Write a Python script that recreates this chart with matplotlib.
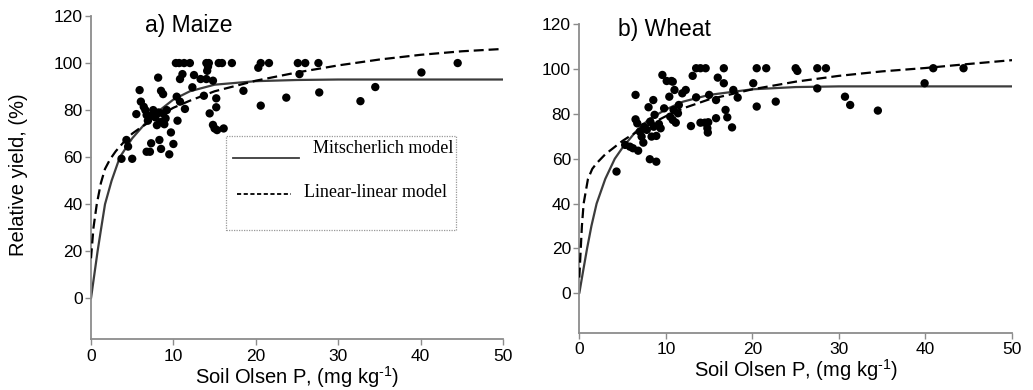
import matplotlib
matplotlib.use("Agg")
import matplotlib.pyplot as plt
from matplotlib.patches import Rectangle

plt.rcParams['font.family'] = ['Liberation Sans', 'DejaVu Sans']
plt.rcParams['mathtext.fontset'] = 'custom'
plt.rcParams['mathtext.rm'] = 'Liberation Sans'
plt.rcParams['mathtext.it'] = 'Liberation Sans'
plt.rcParams['mathtext.bf'] = 'Liberation Sans'

# ---------------- data ----------------
x_ticks = [0, 10, 20, 30, 40, 50]
y_ticks = [0, 20, 40, 60, 80, 100, 120]

# Maize observations
maize_x = [3.7, 5.0, 4.3, 4.5, 5.5, 5.9, 6.05, 6.4, 6.6, 6.75, 6.9, 6.75, 7.15, 7.3, 7.55,
           7.8, 8.0, 8.15, 8.3, 8.5, 8.5, 8.75, 8.5, 8.75, 9.05, 9.2, 9.5, 9.7, 10.0, 8.2,
           7.2, 8.9, 10.4, 10.5, 10.8, 11.1, 10.8, 11.4, 12.3, 12.5, 13.3, 13.7, 14.0, 14.1,
           14.2, 14.4, 14.8, 14.8, 15.0, 15.2, 15.2, 15.3, 16.1, 18.5, 20.6, 23.7, 25.3, 27.7,
           32.7, 34.5, 40.1, 20.3,
           10.3, 10.7, 11.3, 12.0, 14.0, 14.3, 15.5, 15.9, 17.1, 20.6, 21.6, 25.1, 26.0, 27.6, 44.5]
maize_y = [59.3, 59.3, 67.3, 64.5, 78.3, 88.5, 83.6, 81.4, 80.0, 77.9, 75.5, 62.3, 62.3, 65.9, 80.0,
           76.9, 73.6, 93.8, 67.3, 63.5, 88.2, 86.8, 75.0, 78.6, 76.5, 80.0, 61.2, 70.5, 65.6, 79.0,
           77.5, 74.0, 85.7, 75.5, 93.2, 95.3, 83.6, 80.5, 89.7, 94.9, 93.2, 86.1, 93.2, 96.7,
           98.5, 78.6, 92.5, 73.7, 72.2, 85.0, 81.2, 71.5, 72.2, 88.2, 81.9, 85.3, 95.3, 87.5,
           83.8, 89.8, 96.0, 98.0,
           100, 100, 100, 100, 100, 100, 100, 100, 100, 100, 100, 100, 100, 100, 100]

# Maize fitted curves
maize_mit_x = [0, 0.4, 0.8, 1.2, 1.7, 2.5, 3.5, 5, 6.5, 8, 10, 12, 15, 20, 25, 30, 50]
maize_mit_y = [0, 10, 20, 29, 40, 50, 60, 68, 74, 79, 84.5, 88, 90.8, 92.3, 92.8, 93, 93]
maize_lin_x = [0, 0.3, 0.7, 1.2, 1.7, 2.3, 3, 4, 5, 6, 8, 10, 12, 15, 20, 25, 30, 35, 40, 45, 50]
maize_lin_y = [17, 30, 40, 49, 55, 59, 62.5, 66.5, 70, 72.5, 77, 81, 84, 88, 92.5, 96, 99,
               101.5, 103.5, 105, 106]

# Wheat observations
wheat_x = [4.3, 5.3, 5.85, 6.2, 6.5, 6.5, 6.7, 6.8, 7.0, 7.2, 7.4, 7.5, 7.8, 8.0, 8.15, 8.2,
           8.35, 8.55, 8.6, 8.7, 8.9, 8.9, 9.2, 9.4, 9.6, 9.8, 10.1, 10.4, 10.5, 10.65, 10.8,
           10.8, 10.9, 11.0, 11.15, 11.4, 11.5, 11.9, 12.3, 12.9, 13.1, 13.5, 13.5, 14.0, 14.6,
           14.0, 14.5, 14.8, 14.85, 14.9, 15.0, 15.8, 15.8, 16.0, 16.7, 16.7, 16.9, 17.1, 17.65,
           17.8, 18.3, 20.1, 20.5, 21.6, 20.5, 22.7, 25.0, 25.2, 27.5, 28.5, 27.5, 30.7, 31.3,
           34.5, 39.9, 40.9, 44.4]
wheat_y = [54.3, 66.2, 65.4, 64.7, 88.5, 77.6, 75.8, 63.6, 72.1, 69.9, 67.2, 74.3, 72.9, 83.0,
           59.8, 76.6, 69.9, 86.2, 74.3, 79.6, 58.7, 70.2, 75.5, 73.6, 97.4, 82.5, 94.7, 87.7,
           78.8, 94.7, 94.4, 77.3, 81.8, 90.7, 76.1, 80.3, 84.0, 89.2, 90.7, 74.6, 97.0, 100.4,
           87.4, 100.4, 100.4, 76.1, 76.1, 73.6, 71.7, 76.3, 88.5, 86.2, 78.1, 96.2, 100.4, 93.7,
           81.8, 78.5, 74.0, 90.7, 87.3, 93.7, 100.4, 100.4, 83.3, 85.5, 100.4, 99.2, 100.4,
           100.4, 91.4, 87.7, 84.0, 81.5, 93.7, 100.4, 100.4]

# Wheat fitted curves
wheat_mit_x = [0, 0.4, 0.9, 1.4, 2, 3, 4.1, 5, 6.5, 8, 10, 12, 15, 20, 25, 30, 50]
wheat_mit_y = [0, 9, 20, 30, 40, 51, 60, 65, 72, 77.5, 82, 85.5, 88.5, 91, 92, 92.3, 92.3]
wheat_lin_x = [0, 0.3, 0.5, 1, 1.5, 2, 3, 4, 5, 6, 8, 10, 12, 15, 20, 25, 30, 35, 40, 45, 50]
wheat_lin_y = [7, 30, 40, 51, 55.5, 58, 62, 65, 68, 70.5, 75, 79, 82.5, 86.5, 91, 94.4, 97,
               99, 100.5, 102.3, 104]

legend_labels = ["Mitscherlich model", "Linear-linear model"]
panel_titles = ["a) Maize", "b) Wheat"]
xlabel = r"Soil Olsen P, (mg kg$^{\text{-1}}$)"
ylabel = "Relative yield, (%)"

# ---------------- figure ----------------
W, H = 1033, 390
fig = plt.figure(figsize=(W / 100, H / 100), dpi=100)

def px_axes(x0, x1, ytop, ybot):
    return [x0 / W, 1 - ybot / H, (x1 - x0) / W, (ybot - ytop) / H]

axA = fig.add_axes(px_axes(91, 503, 16, 339))
axB = fig.add_axes(px_axes(579.3, 1012, 24.3, 332.7))

SPINE = '#8c8c8c'
SOLID = '#3c3c3c'

def style(ax, ybot):
    ax.set_xlim(0, 50)
    ax.set_ylim(ybot, 120)
    for s in ['top', 'right']:
        ax.spines[s].set_visible(False)
    for s in ['left', 'bottom']:
        ax.spines[s].set_color(SPINE)
        ax.spines[s].set_linewidth(1.3)
    ax.set_xticks(x_ticks)
    ax.set_yticks(y_ticks)
    ax.tick_params(axis='both', colors=SPINE, labelcolor='black', labelsize=12.5,
                   length=4, width=1.0, direction='out')
    ax.tick_params(axis='y', pad=2)
    ax.tick_params(axis='x', pad=3)
    ax.set_xlabel(xlabel, fontsize=14.5, labelpad=0)

def draw(ax, ox, oy, mx, my, lx, ly):
    ax.plot(mx, my, color=SOLID, lw=1.6, solid_capstyle='round', zorder=2)
    ax.plot(lx, ly, color='black', lw=1.6, dashes=(4.5, 2.2), zorder=3)
    ax.scatter(ox, oy, s=36, color='black', edgecolors='none', zorder=4)

style(axA, -17.3)
style(axB, -17.6)
draw(axA, maize_x, maize_y, maize_mit_x, maize_mit_y, maize_lin_x, maize_lin_y)
draw(axB, wheat_x, wheat_y, wheat_mit_x, wheat_mit_y, wheat_lin_x, wheat_lin_y)

axA.set_ylabel(ylabel, fontsize=14.5, labelpad=4)
axA.yaxis.set_label_coords(-0.153, 0.51)

axA.text(6.55, 116, panel_titles[0], fontsize=16.5, ha='left', va='center')
axB.text(4.5, 117.5, panel_titles[1], fontsize=16.5, ha='left', va='center')

# legend box (manual) in panel a
box = Rectangle((16.4, 29.0), 27.9, 40.0, fill=True, facecolor='white',
                edgecolor='#999999', lw=0.9, linestyle=(0, (1, 1)), zorder=5)
axA.add_patch(box)
axA.plot([17.2, 25.2], [59.8, 59.8], color=SOLID, lw=1.3, zorder=6)
axA.plot([17.7, 24.3], [44.2, 44.2], color='black', lw=1.3, dashes=(2.3, 1.4), zorder=6)
axA.text(26.9, 63.8, legend_labels[0], family='Liberation Serif', fontsize=13,
         ha='left', va='center', zorder=6)
axA.text(25.9, 44.8, legend_labels[1], family='Liberation Serif', fontsize=13,
         ha='left', va='center', zorder=6)

fig.savefig("out.png", dpi=100)
